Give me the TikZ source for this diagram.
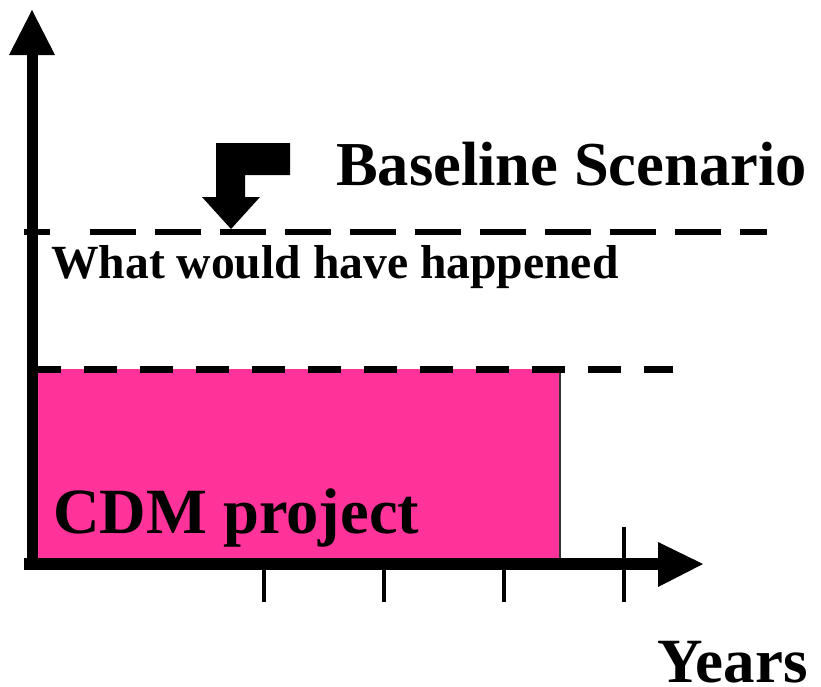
\documentclass[tikz,border=0pt]{standalone}
\usepackage{fontspec}
\setmainfont{Liberation Serif}
\definecolor{cdmpink}{RGB}{255,51,153}
\begin{document}
\begin{tikzpicture}[x=1pt,y=-1pt,
  lbl/.style={inner sep=0pt, anchor=base west, font=\bfseries\fontsize{63}{63}\selectfont},
  axisline/.style={line width=11.5pt},
  tickline/.style={line width=4pt},
  headfill/.style={fill=black},
]
\useasboundingbox (0,0) rectangle (821,686);
% CDM project bar
\fill[cdmpink] (38,369) rectangle (560,558);
\draw[black!80, line width=2pt] (560,369) -- (560,558);
% dashed levels
\draw[line width=7pt, dash pattern=on 33pt off 23pt] (28,369.5) -- (673,369.5);
\draw[line width=6pt] (24,232) -- (50,232);
\draw[line width=6pt, dash pattern=on 46pt off 19pt] (90,232) -- (767,232);
% axes
\coordinate (yfoot) at (32.5,570);
\coordinate (ytop) at (32.5,54);
\coordinate (xstart) at (24,564);
\coordinate (xend) at (660,564);
\draw[axisline] (yfoot) -- (ytop);
\fill[headfill] (32,10) -- (55,55) -- (9,55) -- cycle;
\draw[axisline] (xstart) -- (xend);
\fill[headfill] (703,564) -- (658,542) -- (658,587) -- cycle;
% ticks
\foreach \tx in {264,384,504} \draw[tickline] (\tx,570) -- (\tx,602);
\draw[tickline] (624,527) -- (624,602);
% bent arrow
\fill[headfill] (216,143) -- (290,143) -- (290,175) -- (245,175) -- (245,197) -- (260,197) -- (231,229) -- (202,197) -- (216,197) -- cycle;
% texts
\node[lbl, font=\bfseries\fontsize{62.5}{62.5}\selectfont] (base) at (336,185) {Baseline Scenario};
\node[lbl, font=\bfseries\fontsize{47.6}{47.6}\selectfont] (what) at (51,278) {What would have happened};
\node[lbl, font=\bfseries\fontsize{64.5}{64.5}\selectfont] (cdm) at (53,533) {CDM project};
\node[lbl] (years) at (657,682) {Years};
\end{tikzpicture}
\end{document}
